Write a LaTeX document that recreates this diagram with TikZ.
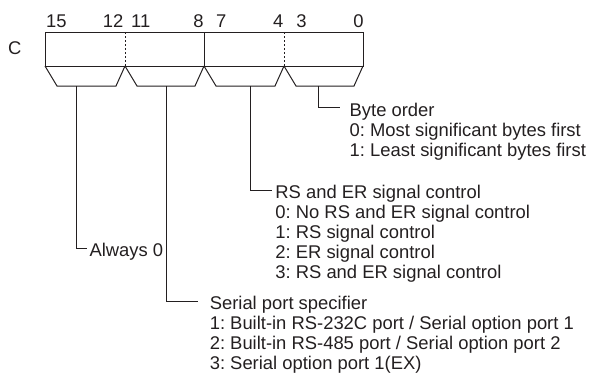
\documentclass[tikz,border=0pt]{standalone}
\usepackage{fontspec}
\setmainfont{Liberation Sans}
\usetikzlibrary{positioning}
\definecolor{Cink}{HTML}{231F20}
\frenchspacing

\begin{document}
\begin{tikzpicture}[x=1pt,y=-1pt,
		txt/.style={inner sep=0pt,text=Cink,font=\fontsize{18.4}{19}\selectfont},
		blk/.style={txt,align=left,anchor=north west},
		leg/.style={line width=1pt,Cink}]
		\useasboundingbox (0,0) rectangle (590,378);
		\draw[leg] (45,32) rectangle (363,66);
		\draw[leg] (204,32) -- (204,66);
		\draw[leg,dash pattern=on 2pt off 2pt] (125,32) -- (125,66) (284,32) -- (284,66);
		\foreach \l/\r in {45/125,125/204,204/284,284/363}
		\draw[leg] (\l,66) -- (\l+12,86) -- (\r-9,86) -- (\r,66);
		\foreach \x/\b/\a in {46/15/west,123.5/12/east,131/11/west,203.7/8/east,216/7/west,283.5/4/east,296.2/3/west,363.7/0/east}
		\node[txt,anchor=base \a] (bit\b) at (\x,27) {\b};
		\node[txt,anchor=base west] (creg) at (8,54) {C};
		\foreach \x/\i in {76/0,166.5/1,250/2,318/3}
		\coordinate (f\i) at (\x,86);
		\node[blk] (byte) at (349.5,102.5) {\strut Byte order\\\strut 0: Most significant bytes first\\\strut 1: Least significant bytes first};
		\node[blk] (rsen) at (275.2,185) {\strut RS and ER signal control\\\strut 0: No RS and ER signal control\\\strut 1: RS signal control\\\strut 2: ER signal control\\\strut 3: RS and ER signal control};
		\node[blk] (always) at (89.3,243.4) {\strut Always 0};
		\node[blk] (serial) at (209.6,295.7) {\strut Serial port specifier\\\strut 1: Built-in RS-232C port / Serial option port 1\\\strut 2: Built-in RS-485 port / Serial option port 2\\\strut 3: Serial option port 1(EX)};
		\draw[leg] (f3) |- ([xshift=-9.5pt,yshift=-5.3pt]byte.north west);
		\draw[leg] (f2) |- ([xshift=-3.2pt,yshift=-5.3pt]rsen.north west);
		\draw[leg] (f0) |- ([xshift=-2.6pt,yshift=-5.3pt]always.north west);
		\draw[leg] (f1) |- ([xshift=-12.1pt,yshift=-5.3pt]serial.north west);
	\end{tikzpicture}
\end{document}
